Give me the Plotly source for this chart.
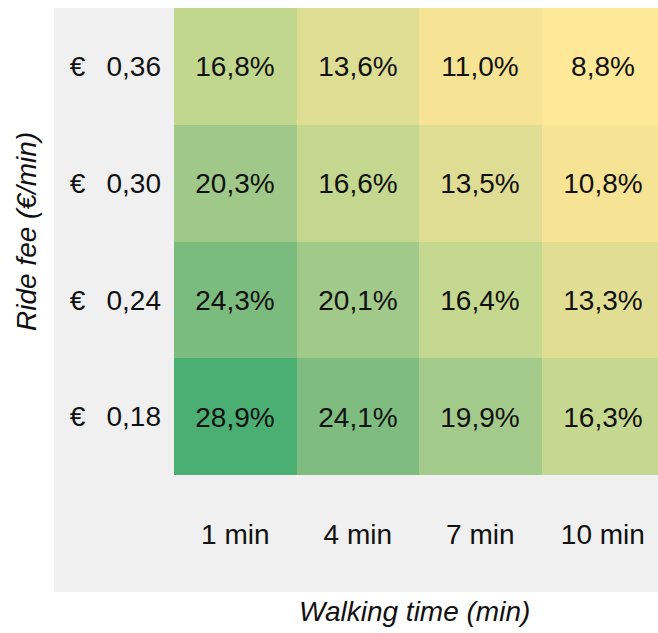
import plotly.graph_objects as go

walking = ["1 min", "4 min", "7 min", "10 min"]
fees = ["0,18", "0,24", "0,30", "0,36"]  # bottom to top
share_018 = [28.9, 24.1, 19.9, 16.3]
share_024 = [24.3, 20.1, 16.4, 13.3]
share_030 = [20.3, 16.6, 13.5, 10.8]
share_036 = [16.8, 13.6, 11.0, 8.8]

z = [share_018, share_024, share_030, share_036]
text = [[f"{v:.1f}".replace(".", ",") + "%" for v in row] for row in z]

W, H = 658, 633
FONT = "Liberation Sans, Arial, sans-serif"
FS = 28

def px(x):
    return x / W

def py(y):
    return (H - y) / H

fig = go.Figure(go.Heatmap(
    z=z, x=[0, 1, 2, 3], y=[0, 1, 2, 3],
    text=text, texttemplate="%{text}",
    textfont=dict(family=FONT, size=FS, color="#111111"),
    colorscale=[[0, "#FFE898"], [0.109, "#F6E394"], [0.239, "#DEDD94"],
                [0.398, "#C1D78E"], [0.572, "#9FC889"], [0.771, "#7CBB7E"],
                [1, "#4BAE73"]],
    showscale=False, hoverinfo="skip", xgap=0, ygap=0,
))

fig.update_layout(
    width=W, height=H,
    margin=dict(l=0, r=0, t=0, b=0),
    paper_bgcolor="white", plot_bgcolor="rgba(0,0,0,0)",
    font=dict(family=FONT, size=FS, color="#111111"),
    xaxis=dict(domain=[px(174), 1], range=[-0.5, 3.45], tickvals=[0, 1, 2, 3],
               ticktext=walking, showgrid=False, zeroline=False, showline=False,
               ticks="", ticklabelstandoff=40, fixedrange=True),
    yaxis=dict(domain=[py(475), py(8)], range=[-0.5, 3.5], tickvals=[0, 1, 2, 3],
               ticktext=["€\u00a0\u00a0\u2009" + f for f in fees], showgrid=False,
               zeroline=False, showline=False, ticks="", ticklabelstandoff=12,
               fixedrange=True),
    shapes=[dict(type="rect", xref="paper", yref="paper", x0=px(54), x1=1,
                 y0=py(592), y1=py(8), fillcolor="#F0F0F0", line=dict(width=0),
                 layer="below")],
    annotations=[
        dict(text="<i>Walking time (min)</i>", xref="paper", yref="paper",
             x=px(414), y=py(611), showarrow=False, xanchor="center", yanchor="middle",
             font=dict(family=FONT, size=FS, color="#111111")),
        dict(text="<i>Ride fee (€/min)</i>", xref="paper", yref="paper",
             x=px(26), y=py(232), showarrow=False, textangle=-90,
             xanchor="center", yanchor="middle",
             font=dict(family=FONT, size=FS, color="#111111")),
    ],
)

fig.write_html(
    "out.html",
    config={"displayModeBar": False},
    post_script="document.body.style.margin='0';document.body.style.overflow='hidden';",
)
